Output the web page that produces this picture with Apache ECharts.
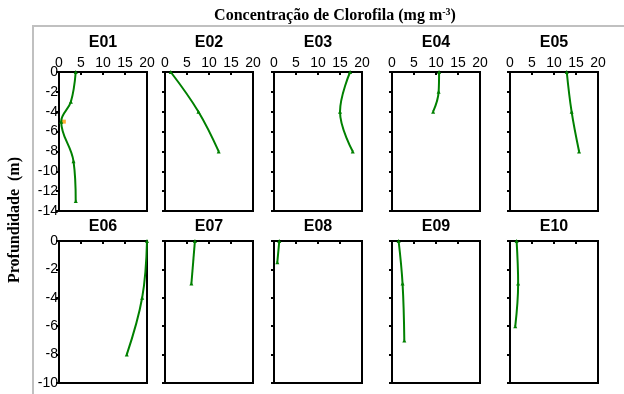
<!DOCTYPE html>
<html><head><meta charset="utf-8">
<script src="https://cdn.jsdelivr.net/npm/echarts@6/dist/echarts.min.js"></script>
<style>html,body{margin:0;padding:0;background:#fff}#c{width:624px;height:394px}</style>
</head><body><div id="c"></div><script>
// ---- data ----
const stations = ['E01','E02','E03','E04','E05','E06','E07','E08','E09','E10'];
const xTicks = [0, 5, 10, 15, 20];
const depthTicksRow1 = [0, -2, -4, -6, -8, -10, -12, -14];
const depthTicksRow2 = [0, -2, -4, -6, -8, -10];
// [chlorophyll (mg m-3), depth (m)]
const E01 = [[3.8,0],[2.7,-3],[0.5,-5],[3.3,-9],[3.8,-13]];
const E01_extra = [[1.1,-5]];
const E02 = [[1.3,0],[7.6,-4],[12.2,-8]];
const E03 = [[17.3,0],[15.0,-4],[17.9,-8]];
const E04 = [[10.7,0],[10.6,-2],[9.35,-4]];
const E05 = [[12.9,0],[14.0,-4],[15.7,-8]];
const E06 = [[20.0,0],[18.9,-4],[15.4,-8]];
const E07 = [[6.8,0],[6.0,-3]];
const E08 = [[1.2,0],[0.75,-1.5]];
const E09 = [[1.5,0],[2.4,-3],[2.8,-7]];
const E10 = [[1.5,0],[1.85,-3],[1.2,-6]];
const profiles = [E01,E02,E03,E04,E05,E06,E07,E08,E09,E10];

// ---- layout ----
const lefts = [59,165,274,392,510];
const W = 88;
const rowTop = [72,241];
const rowH = [139,142];
const rowMin = [depthTicksRow1[depthTicksRow1.length-1], depthTicksRow2[depthTicksRow2.length-1]];
const titleY = [43,227];
const green = '#008000';
const sans = '"Liberation Sans", Arial, sans-serif';
const serif = '"Liberation Serif", "Times New Roman", serif';

const grids=[], xAxes=[], yAxes=[], series=[];
const g2 = [
  {type:'polyline', shape:{points:[[33,394],[33,26],[624,26]]}, style:{stroke:'#c0c0c0', lineWidth:2, fill:null}},
  {type:'text', x:15, y:220, rotation:Math.PI/2, style:{text:'Profundidade  (m)', font:'bold 16px ' + serif, fill:'#000', textAlign:'center', textVerticalAlign:'middle'}}
];
stations.forEach((name,i)=>{
  const r = Math.floor(i/5), c = i%5;
  grids.push({left:lefts[c], top:rowTop[r], width:W, height:rowH[r], show:true, borderColor:'#000', borderWidth:2, backgroundColor:'transparent'});
  xAxes.push({gridIndex:i, type:'value', position:'top', min:xTicks[0], max:xTicks[xTicks.length-1], interval:xTicks[1]-xTicks[0],
    axisLine:{show:true,lineStyle:{color:'#000',width:2}},
    axisTick:{show:true,inside:true,length:3,lineStyle:{color:'#000',width:2}},
    axisLabel:{show:r===0,color:'#000',fontFamily:sans,fontSize:14,margin:2},
    splitLine:{show:false}});
  yAxes.push({gridIndex:i, type:'value', min:rowMin[r], max:0, interval:2,
    axisLine:{show:true,onZero:false,lineStyle:{color:'#000',width:2}},
    axisTick:{show:true,inside:false,length:3,lineStyle:{color:'#000',width:2}},
    axisLabel:{show:c===0,color:'#000',fontFamily:sans,fontSize:14,margin:1},
    splitLine:{show:false}});
  series.push({type:'line', xAxisIndex:i, yAxisIndex:i, data:profiles[i], smooth:0.4,
    symbol:'triangle', symbolSize:4, lineStyle:{color:green,width:2}, itemStyle:{color:green}});
  g2.push({type:'text', x:lefts[c]+W/2, y:titleY[r], style:{text:name, font:'bold 16px ' + sans, fill:'#000', textAlign:'center', textVerticalAlign:'middle'}});
});
series.push({type:'scatter', xAxisIndex:0, yAxisIndex:0, data:E01_extra, symbol:'rect', symbolSize:4, itemStyle:{color:'#ff9900'}});

const chart = echarts.init(document.getElementById('c'), null, {renderer:'canvas'});
chart.setOption({
  animation:false,
  backgroundColor:'#fff',
  title:{text:'{a|Concentração de Clorofila (mg m}{s|-3}{a|)}', left:330, top:2, textAlign:'center',
    textStyle:{rich:{a:{fontFamily:serif,fontWeight:'bold',fontSize:16,color:'#000'},
                     s:{fontFamily:serif,fontWeight:'bold',fontSize:10,color:'#000',verticalAlign:'top',padding:[0,0,7,0]}}}},
  grid:grids, xAxis:xAxes, yAxis:yAxes, series:series,
  graphic:{elements:g2}
});
</script></body></html>
